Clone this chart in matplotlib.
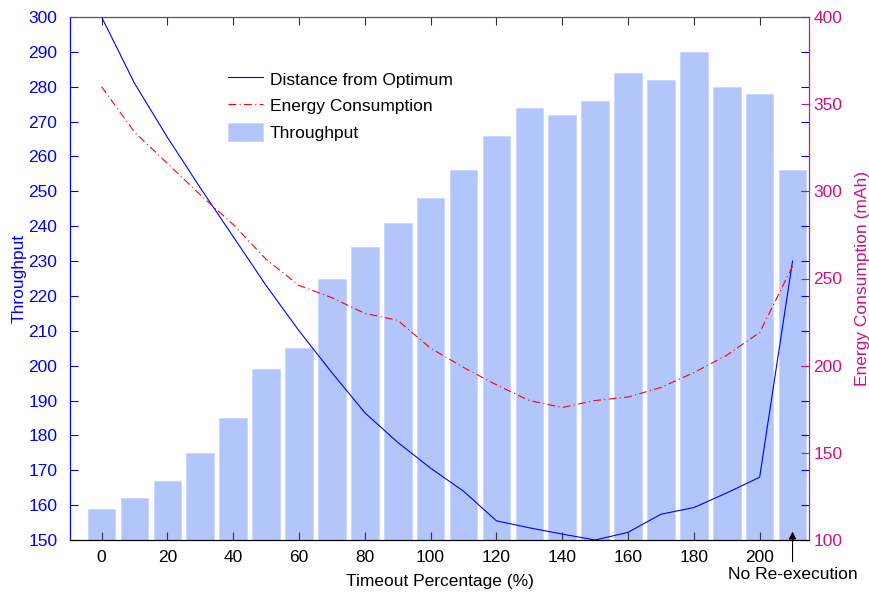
import matplotlib
matplotlib.use("Agg")
import matplotlib.pyplot as plt
import numpy as np

plt.rcParams['font.family'] = ['Liberation Sans', 'DejaVu Sans']

timeout_pct = [0, 10, 20, 30, 40, 50, 60, 70, 80, 90, 100,
               110, 120, 130, 140, 150, 160, 170, 180, 190, 200, 210]
throughput = [159, 162, 167, 175, 185, 199, 205, 225, 234, 241, 248,
              256, 266, 274, 272, 276, 284, 282, 290, 280, 278, 256]
distance = [300, 281, 265.5, 251, 237, 223, 210, 198, 186.5, 178, 170.6,
            164, 155.5, 153.5, 151.7, 150, 152.2, 157.4, 159.3, 163.5, 168, 230]
energy = [360, 334, 316, 298, 281, 261, 246, 239, 230, 226, 210,
          199, 189, 180, 176, 180, 182, 187.5, 196, 206, 219, 257]
x_ticks = [0, 20, 40, 60, 80, 100, 120, 140, 160, 180, 200]
left_ticks = list(range(150, 301, 10))
right_ticks = [100, 150, 200, 250, 300, 350, 400]

BLUE = '#0000FF'
MAGENTA = '#CC1188'
BAR = '#B2C6FC'
FS = 12.5

fig = plt.figure(figsize=(8.7, 5.93), dpi=100)
ax = fig.add_axes([70 / 870, 1 - 540 / 593, 739 / 870, 523 / 593])
ax2 = ax.twinx()

bars = ax.bar(timeout_pct, throughput, width=8.4, color=BAR, edgecolor='#C8D6FF',
              linewidth=0.6, zorder=1, label='Throughput')
line_d, = ax.plot(timeout_pct, distance, color=BLUE, lw=0.8, zorder=3,
                  label='Distance from Optimum')
line_e, = ax2.plot(timeout_pct, energy, color='#FF0000', lw=0.8, ls='-.',
                   dashes=(7, 3, 1, 3), label='Energy Consumption')

ax.set_xlim(-9.6, 215)
ax.set_ylim(150, 300)
ax2.set_ylim(100, 400)
ax.set_xticks(x_ticks)
ax.set_yticks(left_ticks)
ax2.set_yticks(right_ticks)

ax.tick_params(axis='x', direction='in', top=True, length=6, width=0.8,
               color='#333333', labelsize=FS, pad=7)
ax.tick_params(axis='y', direction='in', right=True, length=6, width=0.8,
               colors=BLUE, labelsize=FS, pad=9)
ax2.tick_params(axis='y', direction='in', length=6, width=0.8,
                colors=MAGENTA, labelsize=FS, pad=3)

for a in (ax, ax2):
    a.spines['top'].set_color('#555555')
    a.spines['bottom'].set_color('#000000')
    a.spines['left'].set_color(BLUE)
    a.spines['right'].set_color(MAGENTA)

ax.set_xlabel('Timeout Percentage (%)', fontsize=FS, labelpad=7)
ax.set_ylabel('Throughput', fontsize=FS, color=BLUE, labelpad=1)
ax2.set_ylabel('Energy Consumption (mAh)', fontsize=FS, color=MAGENTA, labelpad=9)

ax.annotate('No Re-execution', xy=(210, 152.4), xytext=(0, -31),
            textcoords='offset points', ha='center', va='center', fontsize=FS,
            annotation_clip=False,
            arrowprops=dict(arrowstyle='-|>', color='black', lw=0.8,
                            mutation_scale=11, shrinkA=2, shrinkB=0))

ax2.legend([line_d, line_e, bars[0]],
           ['Distance from Optimum', 'Energy Consumption', 'Throughput'],
           loc='upper left', bbox_to_anchor=(0.214, 0.899), frameon=False,
           fontsize=FS, handlelength=2.0, handleheight=1.2, handletextpad=0.4,
           labelspacing=0.5, borderpad=0, borderaxespad=0)

fig.savefig('out.png', dpi=100)
